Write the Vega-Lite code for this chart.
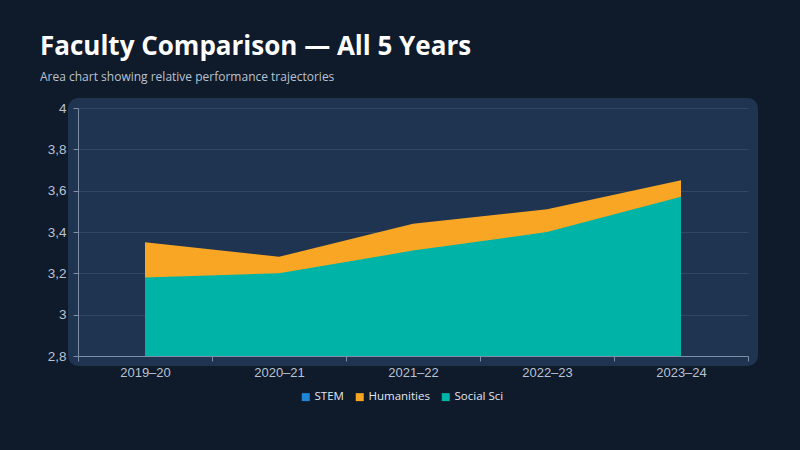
{
  "$schema": "https://vega.github.io/schema/vega-lite/v6.json",
  "autosize": {"type": "none"},
  "width": 670,
  "height": 248,
  "padding": {"left": 78, "top": 108, "right": 52, "bottom": 94},
  "background": "#0f1a2b",
  "title": {
    "text": "Faculty Comparison — All 5 Years",
    "subtitle": "Area chart showing relative performance trajectories",
    "anchor": "start",
    "frame": "group",
    "dx": -38,
    "offset": 18,
    "font": "Open Sans",
    "fontSize": 26,
    "fontWeight": "bold",
    "color": "#ffffff",
    "subtitleFont": "Open Sans",
    "subtitleFontSize": 12,
    "subtitleColor": "#b9c3d1",
    "subtitlePadding": 12
  },
  "data": {
    "values": [
      {"year": "2019–20", "faculty": "STEM", "score": 3.26},
      {"year": "2020–21", "faculty": "STEM", "score": 3.24},
      {"year": "2021–22", "faculty": "STEM", "score": 3.37},
      {"year": "2022–23", "faculty": "STEM", "score": 3.46},
      {"year": "2023–24", "faculty": "STEM", "score": 3.6},
      {"year": "2019–20", "faculty": "Humanities", "score": 3.35},
      {"year": "2020–21", "faculty": "Humanities", "score": 3.28},
      {"year": "2021–22", "faculty": "Humanities", "score": 3.44},
      {"year": "2022–23", "faculty": "Humanities", "score": 3.51},
      {"year": "2023–24", "faculty": "Humanities", "score": 3.65},
      {"year": "2019–20", "faculty": "Social Sci", "score": 3.18},
      {"year": "2020–21", "faculty": "Social Sci", "score": 3.2},
      {"year": "2021–22", "faculty": "Social Sci", "score": 3.31},
      {"year": "2022–23", "faculty": "Social Sci", "score": 3.4},
      {"year": "2023–24", "faculty": "Social Sci", "score": 3.57}
    ]
  },
  "mark": {"type": "area", "opacity": 1, "interpolate": "linear"},
  "encoding": {
    "x": {
      "field": "year",
      "type": "ordinal",
      "bandPosition": 0.5,
      "sort": null,
      "scale": {"type": "band", "paddingInner": 0, "paddingOuter": 0},
      "title": null,
      "axis": {
        "labelAngle": 0,
        "tickBand": "extent",
        "grid": false,
        "domainColor": "#7d8ea6",
        "tickColor": "#7d8ea6",
        "tickSize": 5,
        "labelPadding": 5,
        "labelFont": "Liberation Sans",
        "labelFontSize": 13,
        "labelColor": "#b8c4d4"
      }
    },
    "y": {
      "field": "score",
      "type": "quantitative",
      "stack": null,
      "scale": {"domain": [2.8, 4], "nice": false, "zero": false},
      "title": null,
      "axis": {
        "values": [2.8, 3, 3.2, 3.4, 3.6, 3.8, 4],
        "labelExpr": "replace(format(datum.value, '~g'), '.', ',')",
        "gridColor": "#314862",
        "domainColor": "#7d8ea6",
        "tickColor": "#7d8ea6",
        "tickSize": 5,
        "labelPadding": 7,
        "labelFont": "Liberation Sans",
        "labelFontSize": 13.5,
        "labelColor": "#b8c4d4"
      }
    },
    "color": {
      "field": "faculty",
      "type": "nominal",
      "sort": ["STEM", "Humanities", "Social Sci"],
      "scale": {
        "domain": ["STEM", "Humanities", "Social Sci"],
        "range": ["#1f86d6", "#f8a623", "#00b3a7"]
      },
      "legend": {
        "title": null,
        "orient": "none",
        "direction": "horizontal",
        "legendX": 222,
        "legendY": 283,
        "padding": 0,
        "symbolType": "square",
        "symbolSize": 64,
        "symbolOpacity": 1,
        "symbolStrokeWidth": 0,
        "labelFont": "Open Sans",
        "labelFontSize": 11.5,
        "labelColor": "#e2e8f0",
        "labelOffset": 3,
        "columnPadding": 10
      }
    }
  },
  "config": {
    "view": {
      "fill": "#1f3451",
      "stroke": "#1f3451",
      "strokeWidth": 20,
      "strokeJoin": "round"
    }
  }
}
